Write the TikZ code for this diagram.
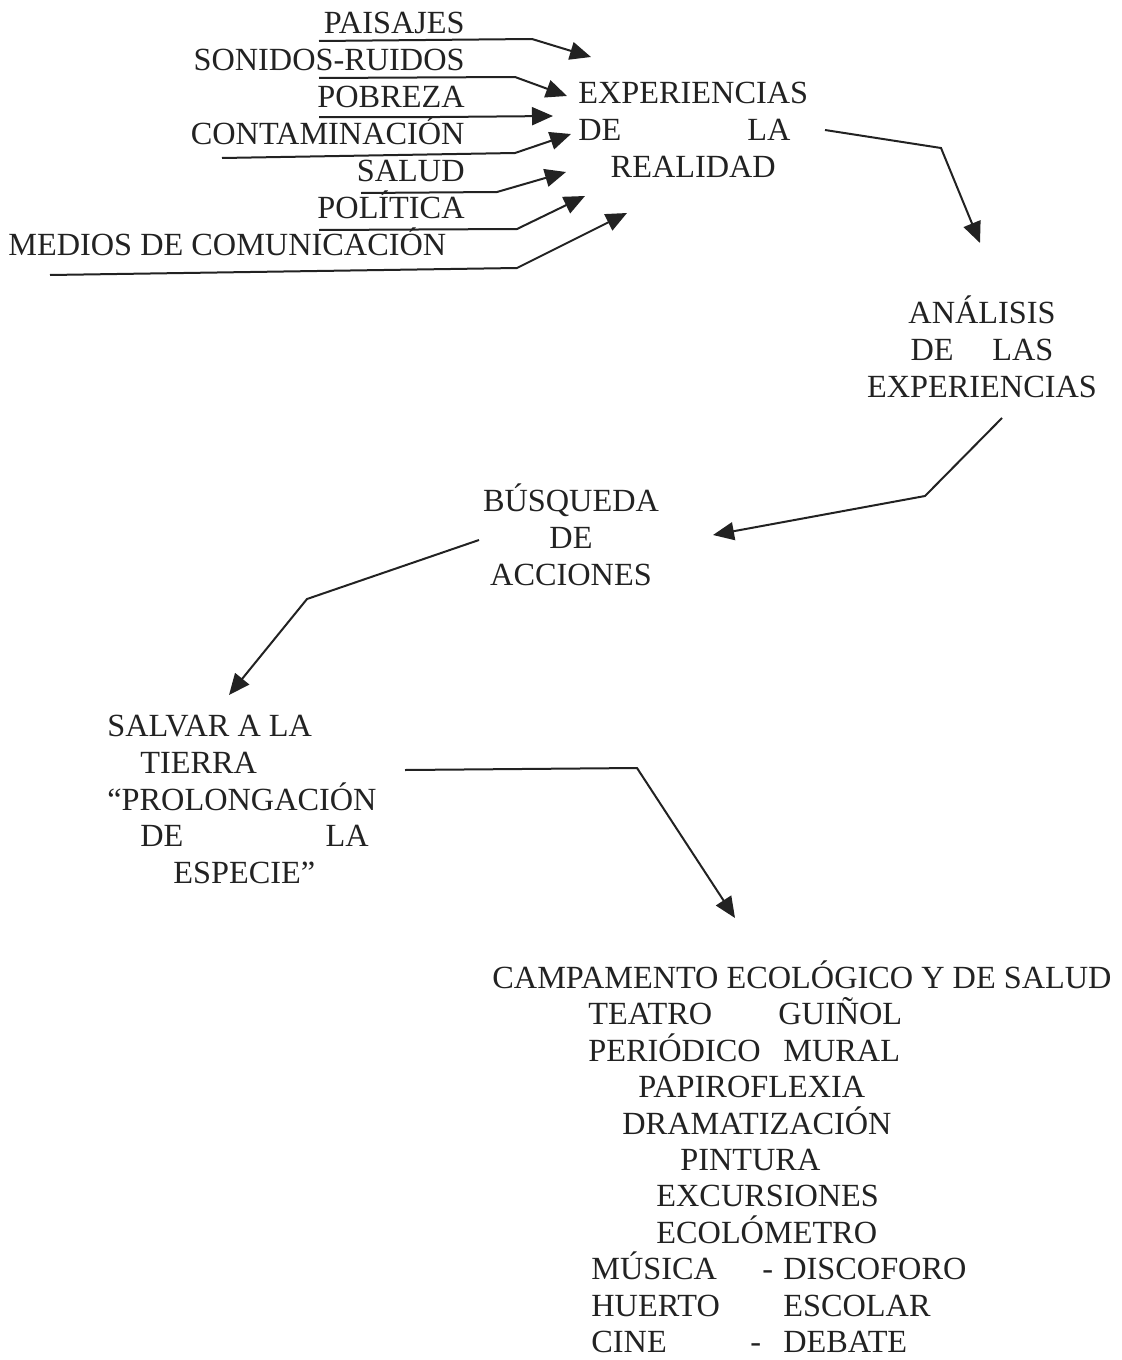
\documentclass[tikz,border=0pt]{standalone}
\usepackage{fontspec}
\setmainfont{Liberation Serif}
\usetikzlibrary{arrows.meta}

\definecolor{tinta}{HTML}{222222}
% altura fija de la primera linea de cada bloque
\newcommand{\alto}{\rule{0pt}{15pt}}

\begin{document}
\begin{tikzpicture}[
    x=0.5pt, y=-0.5pt,
    every node/.style={inner sep=0pt, text=tinta, font=\fontsize{16.15pt}{18.4pt}\selectfont},
    flecha/.style={draw=tinta, line width=1pt, -{Triangle[length=10.5pt,width=9pt]}},
  ]
  \useasboundingbox (0,0) rectangle (1121,1360);

  % temas que llegan a las experiencias
  \foreach \tema [count=\i] in {PAISAJES, SONIDOS-RUIDOS, POBREZA, CONTAMINACIÓN, SALUD, POLÍTICA}
    \node[anchor=base east] (tema\i) at (465,{33+37*(\i-1)}) {\tema};
  \node[anchor=base west] (tema7) at (8,255) {MEDIOS DE COMUNICACIÓN};

  \foreach \i/\ax/\ay/\bx/\by/\cx/\cy in {
      1/319/41/532/39/591/57,
      2/319/78/515/77/567/96,
      3/319/117/440/117/553/116,
      4/222/158/515/153/571/134,
      5/361/193/497/192/566/172,
      6/319/230/517/229/585/196,
      7/50/275/517/268/627/213}
  {
    \coordinate (ini\i) at (\ax,\ay);
    \coordinate (codo\i) at (\bx,\by);
    \coordinate (punta\i) at (\cx,\cy);
    \draw[flecha] (ini\i) -- (codo\i) -- (punta\i);
  }

  % bloques principales
  \node[anchor=north west, align=center] (experiencias) at (578,73)
    {\alto EXPERIENCIAS\\ \makebox[7.11em][l]{DE\hspace{3.9em}LA}\\ REALIDAD};
  \node[anchor=north, align=center] (analisis) at (982,293)
    {\alto ANÁLISIS\\ DE\hspace{1.2em}LAS\\ EXPERIENCIAS};
  \node[anchor=north, align=center] (busqueda) at (571,481)
    {\alto BÚSQUEDA\\ DE\\ ACCIONES};
  \node[anchor=north west, align=left] (salvar) at (107,706)
    {\alto SALVAR A LA\\ \hspace*{16.5pt}TIERRA\\ “PROLONGACIÓN\\
     \hspace*{16.5pt}DE\hspace{4.4em}LA\\ \hspace*{33pt}ESPECIE”};
  \node[anchor=north west, align=left, font=\fontsize{16.15pt}{18.2pt}\selectfont] (campamento) at (492,958)
    {\alto CAMPAMENTO ECOLÓGICO Y DE SALUD\\
     \hspace*{48pt}\makebox[95pt][l]{TEATRO}GUIÑOL\\
     \hspace*{48pt}\makebox[97.5pt][l]{PERIÓDICO}MURAL\\
     \hspace*{73pt}PAPIROFLEXIA\\
     \hspace*{65pt}DRAMATIZACIÓN\\
     \hspace*{94pt}PINTURA\\
     \hspace*{82pt}EXCURSIONES\\
     \hspace*{82pt}ECOLÓMETRO\\
     \hspace*{49.5pt}\makebox[85.5pt][l]{MÚSICA}\makebox[10.5pt][l]{-}DISCOFORO\\
     \hspace*{49.5pt}\makebox[96pt][l]{HUERTO}ESCOLAR\\
     \hspace*{49.5pt}\makebox[79.5pt][l]{CINE}\makebox[16.5pt][l]{-}DEBATE};

  % flechas entre bloques
  \foreach \n/\ax/\ay/\bx/\by/\cx/\cy in {
      experiencias/825/130/941/148/980/243,
      analisis/1002/418/925/496/713/535,
      busqueda/479/540/307/599/229/695,
      salvar/405/770/637/768/735/918}
  {
    \coordinate (de-\n) at (\ax,\ay);
    \coordinate (codo-\n) at (\bx,\by);
    \coordinate (a-\n) at (\cx,\cy);
    \draw[flecha] (de-\n) -- (codo-\n) -- (a-\n);
  }
\end{tikzpicture}
\end{document}
